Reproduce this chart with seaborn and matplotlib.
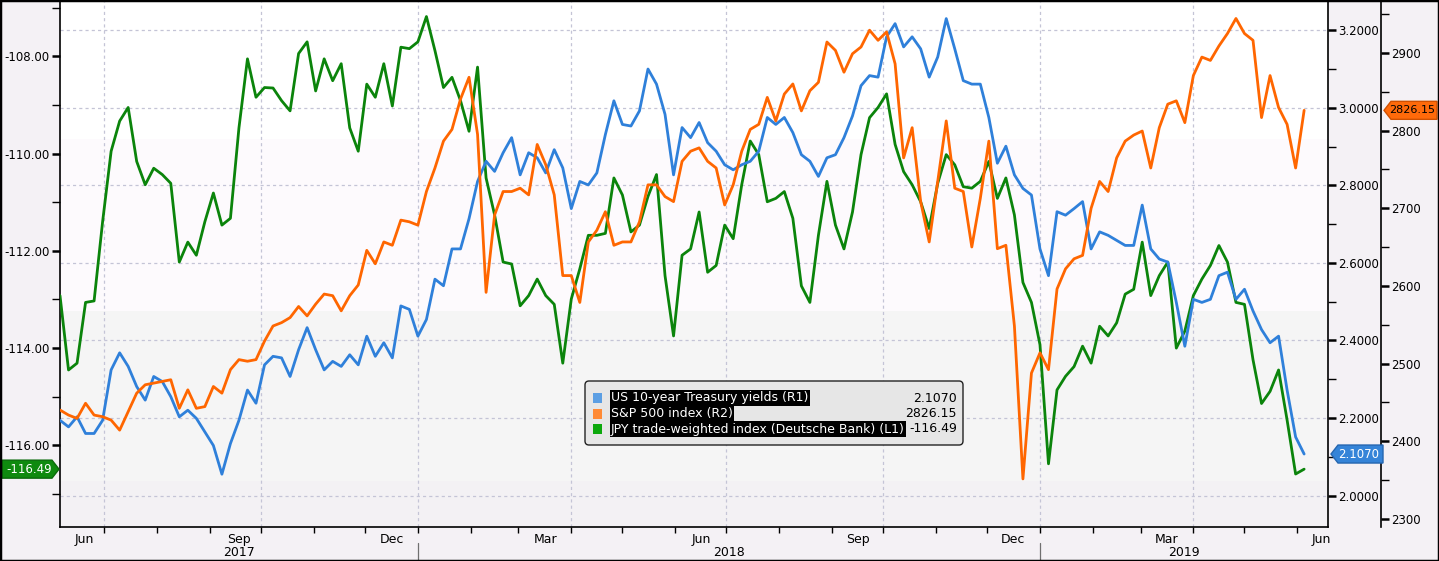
import matplotlib
matplotlib.use("Agg")
import matplotlib.pyplot as plt
import matplotlib.dates as mdates
from matplotlib.patches import Rectangle, Polygon, FancyBboxPatch
from matplotlib.lines import Line2D
from matplotlib.ticker import FormatStrFormatter, FixedLocator, FixedFormatter
from matplotlib.transforms import blended_transform_factory, IdentityTransform
import numpy as np
import pandas as pd
import seaborn as sns

# ---------------- data (every 5 days) ----------------
dates = pd.date_range("2017-06-05", periods=147, freq="5D")

jpy_twi = [
    -112.92, -114.45, -114.31, -113.06, -113.03, -111.40, -109.95, -109.33, -109.05, -110.16,
    -110.64, -110.30, -110.43, -110.61, -112.23, -111.82, -112.09, -111.40, -110.81, -111.47,
    -111.33, -109.47, -108.05, -108.84, -108.64, -108.65, -108.91, -109.12, -107.94, -107.70,
    -108.71, -108.05, -108.50, -108.15, -109.47, -109.95, -108.57, -108.84, -108.15, -109.02,
    -107.81, -107.84, -107.70, -107.18, -107.88, -108.64, -108.43, -108.91, -109.54, -108.22,
    -110.50, -111.26, -112.23, -112.27, -113.13, -112.92, -112.58, -112.92, -113.10, -114.31,
    -112.99, -112.37, -111.68, -111.68, -111.64, -110.50, -110.85, -111.61, -111.47, -110.88,
    -110.43, -112.51, -113.75, -112.09, -111.96, -111.20, -112.44, -112.30, -111.47, -111.75,
    -110.64, -109.74, -110.02, -110.99, -110.92, -110.78, -111.33, -112.72, -113.06, -111.68,
    -110.57, -111.47, -111.96, -111.20, -110.02, -109.26, -109.05, -108.77, -109.81, -110.37,
    -110.64, -110.99, -111.54, -110.61, -110.02, -110.23, -110.68, -110.71, -110.57, -110.16,
    -110.92, -110.50, -111.26, -112.65, -113.06, -113.93, -116.38, -114.86, -114.58, -114.38,
    -113.96, -114.31, -113.55, -113.75, -113.48, -112.89, -112.79, -111.82, -112.92, -112.51,
    -112.23, -114.00, -113.65, -112.92, -112.58, -112.30, -111.89, -112.23, -113.06, -113.10,
    -114.24, -115.14, -114.89, -114.45, -115.48, -116.59, -116.49]

ust10 = [
    2.194, 2.177, 2.203, 2.160, 2.160, 2.194, 2.324, 2.368, 2.333, 2.281,
    2.246, 2.307, 2.294, 2.255, 2.203, 2.220, 2.199, 2.164, 2.129, 2.055,
    2.134, 2.194, 2.272, 2.238, 2.337, 2.359, 2.355, 2.307, 2.376, 2.433,
    2.376, 2.324, 2.346, 2.333, 2.363, 2.337, 2.411, 2.359, 2.394, 2.355,
    2.489, 2.480, 2.411, 2.454, 2.558, 2.541, 2.636, 2.636, 2.714, 2.810,
    2.862, 2.836, 2.884, 2.923, 2.827, 2.884, 2.871, 2.832, 2.892, 2.845,
    2.740, 2.810, 2.801, 2.832, 2.931, 3.018, 2.957, 2.953, 2.992, 3.100,
    3.061, 2.983, 2.827, 2.949, 2.923, 2.962, 2.910, 2.888, 2.853, 2.840,
    2.853, 2.862, 2.888, 2.975, 2.957, 2.975, 2.936, 2.879, 2.862, 2.823,
    2.871, 2.879, 2.923, 2.979, 3.057, 3.083, 3.079, 3.183, 3.217, 3.157,
    3.183, 3.152, 3.079, 3.131, 3.230, 3.152, 3.070, 3.061, 3.061, 2.975,
    2.857, 2.901, 2.827, 2.792, 2.775, 2.636, 2.567, 2.732, 2.723, 2.740,
    2.758, 2.636, 2.680, 2.671, 2.658, 2.645, 2.645, 2.749, 2.636, 2.610,
    2.602, 2.498, 2.385, 2.506, 2.498, 2.506, 2.567, 2.576, 2.506, 2.532,
    2.476, 2.428, 2.394, 2.411, 2.272, 2.151, 2.107]

spx = [
    2440.3, 2433.8, 2429.5, 2449.0, 2433.8, 2431.7, 2427.3, 2414.4, 2438.2, 2462.0,
    2472.8, 2474.9, 2477.1, 2479.3, 2442.5, 2466.3, 2442.5, 2444.7, 2470.6, 2462.0,
    2492.3, 2505.2, 2503.1, 2505.2, 2529.0, 2548.5, 2552.8, 2559.3, 2573.6, 2561.5,
    2576.6, 2589.6, 2587.5, 2568.0, 2587.5, 2601.3, 2645.9, 2628.6, 2656.7, 2652.4,
    2684.8, 2682.6, 2678.3, 2721.6, 2751.9, 2786.5, 2801.6, 2840.6, 2868.7, 2795.2,
    2591.8, 2691.3, 2721.6, 2721.6, 2725.9, 2717.3, 2782.2, 2756.2, 2717.3, 2613.4,
    2613.4, 2578.8, 2656.7, 2671.8, 2695.6, 2652.4, 2656.7, 2656.7, 2682.6, 2730.2,
    2730.2, 2715.1, 2708.6, 2760.5, 2773.5, 2777.8, 2760.5, 2751.9, 2704.3, 2730.2,
    2773.5, 2801.6, 2808.1, 2842.8, 2812.5, 2847.1, 2860.1, 2825.4, 2851.4, 2862.2,
    2914.1, 2903.3, 2875.2, 2899.0, 2907.7, 2929.3, 2916.3, 2927.1, 2886.0, 2764.9,
    2803.8, 2708.6, 2656.7, 2734.6, 2812.5, 2725.9, 2721.6, 2650.2, 2712.9, 2786.5,
    2648.0, 2652.4, 2548.5, 2351.6, 2487.9, 2513.9, 2492.3, 2596.1, 2622.1, 2635.0,
    2639.4, 2700.0, 2734.6, 2721.6, 2765.0, 2786.5, 2794.3, 2799.5, 2751.9, 2803.8,
    2834.1, 2838.4, 2810.3, 2870.9, 2894.7, 2890.4, 2909.0, 2925.0, 2944.4, 2925.0,
    2916.3, 2816.8, 2870.9, 2829.8, 2808.1, 2751.9, 2826.15]

series_labels = ["US 10-year Treasury yields (R1)",
                 "S&P 500 index (R2)",
                 "JPY trade-weighted index (Deutsche Bank) (L1)"]
last_values = ["2.1070", "2826.15", "-116.49"]

month_label_dates = ["2017-06-19", "2017-09-18", "2017-12-17", "2018-03-17", "2018-06-16",
                     "2018-09-16", "2018-12-16", "2019-03-16", "2019-06-15"]
month_labels = ["Jun", "Sep", "Dec", "Mar", "Jun", "Sep", "Dec", "Mar", "Jun"]
years = ["2017", "2018", "2019"]

assert len(jpy_twi) == len(ust10) == len(spx) == len(dates)

# ---------------- style ----------------
sns.set_theme(style="white")
plt.rcParams["font.family"] = ["DejaVu Sans"]

W, H, DPI = 1439, 561, 100
BG = "#f4f1f5"
BLUE, ORANGE, GREEN = "#2f80da", "#ff6600", "#0b840b"
LEG_BLUE, LEG_ORANGE, LEG_GREEN = "#5b9ee3", "#ff8a35", "#0ca80c"
GRID = "#c4c4d6"

fig = plt.figure(figsize=(W / DPI, H / DPI), dpi=DPI, facecolor=BG)
AX_L, AX_R, AX_T, AX_B = 60, 1328, 1, 527
ax = fig.add_axes([AX_L / W, 1 - AX_B / H, (AX_R - AX_L) / W, (AX_B - AX_T) / H])
ax1 = ax.twinx()
ax2 = ax.twinx()

L_LIM = (-117.68, -106.86)
R1_LIM = (1.9188, 3.2754)
R2_LIM = (2289.7, 2966.9)
X_LIM = (pd.Timestamp("2017-06-05"), pd.Timestamp("2019-06-19"))

# background bands (axes fraction)
bands = [(0.7367, 1.0, "#ffffff"), (0.4106, 0.7367, "#fdfafd"),
         (0.0875, 0.4106, "#f5f5f5"), (0.0, 0.0875, "#f3f1f4")]
ax.set_facecolor("white")
for y0, y1, c in bands:
    ax.add_patch(Rectangle((0, y0), 1, y1 - y0, transform=ax.transAxes,
                           fc=c, ec="none", zorder=0))

# lines
sns.lineplot(x=dates, y=jpy_twi, ax=ax, color=GREEN, linewidth=2.0, zorder=3, legend=False)
sns.lineplot(x=dates, y=ust10, ax=ax1, color=BLUE, linewidth=2.0, zorder=3, legend=False)
sns.lineplot(x=dates, y=spx, ax=ax2, color=ORANGE, linewidth=2.0, zorder=3, legend=False)

for a in (ax, ax1, ax2):
    a.set_xlabel("")
    a.set_ylabel("")
    a.set_xlim(*X_LIM)
ax.set_ylim(*L_LIM)
ax1.set_ylim(*R1_LIM)
ax2.set_ylim(*R2_LIM)

# gridlines (drawn on the base axes so they sit beneath all lines)
def r1_to_l1(v):
    return L_LIM[0] + (v - R1_LIM[0]) / (R1_LIM[1] - R1_LIM[0]) * (L_LIM[1] - L_LIM[0])

for v in np.arange(2.0, 3.21, 0.2):
    ax.axhline(r1_to_l1(v), color=GRID, lw=0.9, ls=(0, (2.5, 2.5)), zorder=1)
for d in pd.date_range("2017-07-01", "2019-04-01", freq="QS"):
    ax.axvline(d, color=GRID, lw=0.9, ls=(0, (2.5, 2.5)), zorder=1)

# spines
for a in (ax, ax1, ax2):
    for s in a.spines.values():
        s.set_color("black")
        s.set_linewidth(1.2)
for s in ("left", "top", "bottom"):
    ax1.spines[s].set_visible(False)
    ax2.spines[s].set_visible(False)
ax.spines["right"].set_visible(False)
ax2.spines["right"].set_position(("outward", 53 * 72 / DPI))

# left axis ticks
ax.yaxis.set_major_locator(FixedLocator(np.arange(-116, -107, 2)))
ax.yaxis.set_minor_locator(FixedLocator(np.arange(-117, -106, 2)))
ax.yaxis.set_major_formatter(FormatStrFormatter("%.2f"))
ax.tick_params(axis="y", which="major", direction="out", length=6, width=1.8,
               labelsize=8.5, pad=1.5, colors="black", left=True)
ax.tick_params(axis="y", which="minor", direction="out", length=6, width=1.0,
               colors="black", left=True)

# R1 ticks
ax1.yaxis.set_major_locator(FixedLocator(np.arange(2.0, 3.21, 0.2)))
ax1.yaxis.set_minor_locator(FixedLocator(np.arange(1.9, 3.31, 0.2)))
ax1.yaxis.set_major_formatter(FormatStrFormatter("%.4f"))
ax1.tick_params(axis="y", which="major", direction="out", length=6, width=1.8,
                labelsize=8.5, pad=1.5, colors="black", right=True)
ax1.tick_params(axis="y", which="minor", direction="out", length=6, width=1.0,
                colors="black", right=True)

# R2 ticks
ax2.yaxis.set_major_locator(FixedLocator(np.arange(2300, 2901, 100)))
ax2.yaxis.set_minor_locator(FixedLocator(np.arange(2350, 2951, 100)))
ax2.yaxis.set_major_formatter(FormatStrFormatter("%d"))
ax2.tick_params(axis="y", which="major", direction="out", length=6, width=1.8,
                labelsize=8.5, pad=1.5, colors="black", right=True)
ax2.tick_params(axis="y", which="minor", direction="out", length=6, width=1.0,
                colors="black", right=True)

# x axis: month ticks, quarter-month labels, year row
ax.xaxis.set_minor_locator(mdates.MonthLocator())
ax.xaxis.set_major_locator(FixedLocator(mdates.date2num(pd.to_datetime(month_label_dates))))
ax.xaxis.set_major_formatter(FixedFormatter(month_labels))
ax.tick_params(axis="x", which="major", length=0, pad=4, labelsize=9, colors="black", bottom=True)
ax.tick_params(axis="x", which="minor", direction="out", length=4, width=1.0,
               colors="black", bottom=True)

btrans = blended_transform_factory(ax.transData, ax.transAxes)
for yr in years:
    y0 = max(pd.Timestamp(f"{yr}-01-01"), X_LIM[0])
    y1 = min(pd.Timestamp(f"{int(yr) + 1}-01-01"), X_LIM[1])
    mid = y0 + (y1 - y0) / 2
    ax.text(mid, -0.048, yr, transform=btrans, ha="center", va="center",
            fontsize=9, color="black", clip_on=False)
for yr in years[1:]:
    d = mdates.date2num(pd.Timestamp(f"{yr}-01-01"))
    ax.add_line(Line2D([d, d], [-0.031, -0.07], transform=btrans, color="#707070",
                       lw=0.9, clip_on=False))

# ---------------- value tags ----------------
ident = IdentityTransform()

def disp_y(axis, v):
    return axis.transData.transform((0, v))[1]

def tag(yc, x_tip, x_far, text, fc, ec, tc, point_left, size=8.5):
    h = 9
    step = 7 if point_left else -7
    pts = [(x_tip, yc), (x_tip + step, yc + h), (x_far, yc + h),
           (x_far, yc - h), (x_tip + step, yc - h)]
    fig.add_artist(Polygon(pts, closed=True, fc=fc, ec=ec, lw=1.0,
                           transform=ident, clip_on=False, zorder=10))
    xc = (x_tip + step / 2 + x_far) / 2
    fig.text(xc, yc, text, transform=ident, ha="center", va="center",
             color=tc, fontsize=size, zorder=11)

tag(disp_y(ax, jpy_twi[-1]), 59, 2, last_values[2], "#0f8a0f", "#0a6a0a", "white", False)
tag(disp_y(ax1, ust10[-1]), 1331, 1383, last_values[0], "#3584d8", "#2566b0", "white", True)
tag(disp_y(ax2, spx[-1]), 1384, 1437, last_values[1], "#ff6a0a", "#d05000", "black", True, size=8)

# ---------------- legend box ----------------
fig.add_artist(FancyBboxPatch((585, H - 445), 378, 64,
                              boxstyle="round,pad=0,rounding_size=4",
                              fc="#e6e6e6", ec="#222222", lw=1.0,
                              transform=ident, zorder=8))
leg_cols = [LEG_BLUE, LEG_ORANGE, LEG_GREEN]
for i, (lab, val, col) in enumerate(zip(series_labels, last_values, leg_cols)):
    yc = H - (398 + 15.5 * i)
    fig.add_artist(Rectangle((593, yc - 5), 9, 10, fc=col, ec="none",
                             transform=ident, zorder=9))
    fig.text(611, yc, lab, transform=ident, ha="left", va="center", color="white",
             fontsize=9, zorder=9,
             bbox=dict(boxstyle="square,pad=0.12", fc="black", ec="none"))
    fig.text(957, yc, val, transform=ident, ha="right", va="center", color="black",
             fontsize=9, zorder=9)

# figure border
fig.add_artist(Rectangle((0, 0), 1, 1, transform=fig.transFigure, fill=False,
                         ec="black", lw=2.5, zorder=20))

fig.savefig("out.png", dpi=DPI, facecolor=BG)
